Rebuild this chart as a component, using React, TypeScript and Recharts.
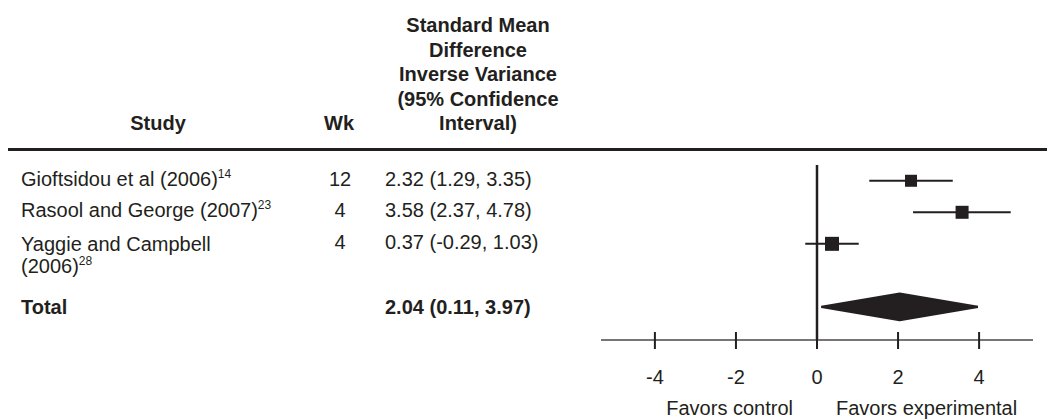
import React from 'react';
import { ComposedChart, Scatter, ErrorBar, Area, XAxis, YAxis, ReferenceLine } from 'recharts';

// study rows
const AUTHORS = ['Gioftsidou et al', 'Rasool and George', 'Yaggie and Campbell'];
const YEARS = ['2006', '2007', '2006'];
const REFS = ['14', '23', '28'];
const WEEKS = [12, 4, 4];
const SMD = [2.32, 3.58, 0.37];
const LOWER = [1.29, 2.37, -0.29];
const UPPER = [3.35, 4.78, 1.03];

// pooled estimate
const TOTAL_SMD = 2.04;
const TOTAL_LOWER = 0.11;
const TOTAL_UPPER = 3.97;

const X_TICKS = [-4, -2, 0, 2, 4];

// layout
const W = 1047;
const H = 419;
const PLOT_LEFT = 601;
const PLOT_RIGHT = 1033;
const PLOT_TOP = 165;
const AXIS_Y = 340;
const X_DOMAIN: [number, number] = [-5.33, 5.33];
const Y_DOMAIN: [number, number] = [-0.5, 5.05];
const ROW_SLOT = [0, 1, 2];
const TOTAL_SLOT = 4;
const WRAP_YEAR = [false, false, true];
const MARKER_PX = [12, 13, 14];
const DIAMOND_HALF = 0.42;

const INK = '#231f20';
const FONT = '"Liberation Sans", Arial, Helvetica, sans-serif';
const FS = 20;

const rowPx = (slot: number) =>
  PLOT_TOP + ((slot - Y_DOMAIN[0]) / (Y_DOMAIN[1] - Y_DOMAIN[0])) * (AXIS_Y - PLOT_TOP);

const studyPoints = SMD.map((v, i) => ({
  x: v,
  y: ROW_SLOT[i],
  err: [v - LOWER[i], UPPER[i] - v],
  px: MARKER_PX[i],
}));

// thin tails of the pooled diamond
const totalPoint = [{ x: TOTAL_SMD, y: TOTAL_SLOT, err: [TOTAL_SMD - TOTAL_LOWER, TOTAL_UPPER - TOTAL_SMD] }];

const diamond = [
  { x: TOTAL_LOWER, band: [TOTAL_SLOT, TOTAL_SLOT] },
  { x: TOTAL_SMD, band: [TOTAL_SLOT - DIAMOND_HALF, TOTAL_SLOT + DIAMOND_HALF] },
  { x: TOTAL_UPPER, band: [TOTAL_SLOT, TOTAL_SLOT] },
];

const Square = (props: any) => {
  const { cx, cy, payload } = props;
  const s = payload.px;
  return <rect x={cx - s / 2} y={cy - s / 2} width={s} height={s} fill={INK} />;
};

const NoShape = () => <g />;

const AxisTick = (props: any) => {
  const { x, y, payload } = props;
  return (
    <g>
      <line x1={x} x2={x} y1={y - 8} y2={y + 9} stroke={INK} strokeWidth={2} />
      <text x={x} y={y + 37} textAnchor="middle" dominantBaseline="central" fontSize={FS} fontFamily={FONT} fill={INK}>
        {String(payload.value)}
      </text>
    </g>
  );
};

const Label = ({ x, y, align = 'left', bold = false, lh = 24, children }: any) => {
  const shift = align === 'center' ? 'translateX(-50%)' : align === 'right' ? 'translateX(-100%)' : 'none';
  return (
    <div
      style={{
        position: 'absolute',
        left: x,
        top: y - lh / 2,
        lineHeight: `${lh}px`,
        fontSize: FS,
        fontWeight: bold ? 700 : 400,
        textAlign: align,
        transform: shift,
        whiteSpace: 'nowrap',
        color: INK,
      }}
    >
      {children}
    </div>
  );
};

const Sup = ({ children }: any) => (
  <span style={{ fontSize: 12, position: 'relative', top: -8 }}>{children}</span>
);

const fmt = (v: number) => v.toFixed(2);

export default function App() {
  return (
    <div style={{ position: 'absolute', left: 0, top: 0, width: W, height: H, fontFamily: FONT, background: '#fff' }}>
      {/* column headers */}
      <Label x={158} y={123} align="center" bold>Study</Label>
      <Label x={339} y={123} align="center" bold>Wk</Label>
      <div
        style={{
          position: 'absolute',
          left: 478,
          top: 13,
          transform: 'translateX(-50%)',
          textAlign: 'center',
          fontSize: FS,
          fontWeight: 700,
          lineHeight: '24.5px',
          whiteSpace: 'nowrap',
          color: INK,
        }}
      >
        Standard Mean<br />Difference<br />Inverse Variance<br />(95% Confidence<br />Interval)
      </div>
      <div style={{ position: 'absolute', left: 8, top: 148, width: W - 8, height: 3, background: INK }} />

      {/* study rows */}
      {AUTHORS.map((a, i) => {
        const cy = rowPx(ROW_SLOT[i]);
        return (
          <React.Fragment key={a}>
            {WRAP_YEAR[i] ? (
              <>
                <Label x={21} y={cy}>{a}</Label>
                <Label x={21} y={cy + 22}>({YEARS[i]})<Sup>{REFS[i]}</Sup></Label>
              </>
            ) : (
              <Label x={21} y={cy - 2}>{a} ({YEARS[i]})<Sup>{REFS[i]}</Sup></Label>
            )}
            <Label x={340} y={cy - 2} align="center">{WEEKS[i]}</Label>
            <Label x={385} y={cy - 2}>{`${fmt(SMD[i])} (${fmt(LOWER[i])}, ${fmt(UPPER[i])})`}</Label>
          </React.Fragment>
        );
      })}
      <Label x={21} y={rowPx(TOTAL_SLOT)} bold>Total</Label>
      <Label x={385} y={rowPx(TOTAL_SLOT)} bold>{`${fmt(TOTAL_SMD)} (${fmt(TOTAL_LOWER)}, ${fmt(TOTAL_UPPER)})`}</Label>

      <div style={{ position: 'absolute', left: 0, top: 0 }}>
        <ComposedChart
          width={W}
          height={H}
          data={diamond}
          margin={{ top: PLOT_TOP, right: W - PLOT_RIGHT, left: PLOT_LEFT, bottom: 0 }}
        >
          <XAxis
            type="number"
            dataKey="x"
            domain={X_DOMAIN}
            ticks={X_TICKS}
            interval={0}
            allowDataOverflow
            tickLine={false}
            tickSize={0}
            tickMargin={0}
            tick={<AxisTick />}
            height={H - AXIS_Y}
            axisLine={{ stroke: '#4a4748', strokeWidth: 1.5 }}
          />
          <YAxis type="number" dataKey="y" domain={Y_DOMAIN} reversed hide allowDataOverflow />
          <ReferenceLine x={0} stroke={INK} strokeWidth={2.5} ifOverflow="visible" />
          <Area
            type="linear"
            dataKey="band"
            stroke={INK}
            strokeWidth={2.5}
            strokeLinejoin="round"
            fill={INK}
            fillOpacity={1}
            isAnimationActive={false}
            dot={false}
            activeDot={false}
          />
          <Scatter data={totalPoint} shape={<NoShape />} isAnimationActive={false}>
            <ErrorBar dataKey="err" direction="x" width={0} stroke={INK} strokeWidth={2} />
          </Scatter>
          <Scatter data={studyPoints} shape={<Square />} isAnimationActive={false}>
            <ErrorBar dataKey="err" direction="x" width={0} stroke={INK} strokeWidth={2} />
          </Scatter>
        </ComposedChart>
      </div>

      {/* axis captions */}
      <Label x={793} y={408} align="right">Favors control</Label>
      <Label x={836} y={408}>Favors experimental</Label>
    </div>
  );
}
